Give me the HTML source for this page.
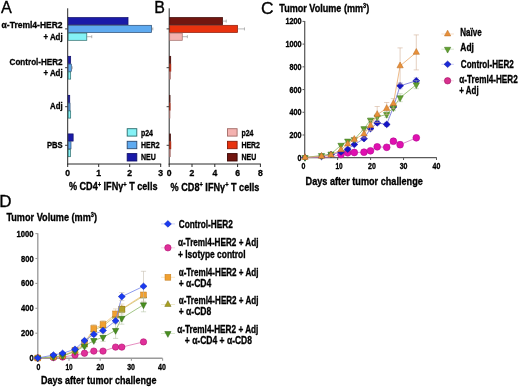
<!DOCTYPE html>
<html><head><meta charset="utf-8"><style>
html,body{margin:0;padding:0;background:#fff;}
svg{display:block;filter:blur(0.3px);}
text{font-family:"Liberation Sans",sans-serif;stroke:#000;stroke-width:0.32px;}
</style></head><body>
<svg width="520" height="388" viewBox="0 0 520 388">
<rect width="520" height="388" fill="#fff"/>
<line x1="67.7" y1="8.3" x2="67.7" y2="164.5" stroke="#2a2a2a" stroke-width="1"/>
<line x1="67.2" y1="164" x2="161.2" y2="164" stroke="#2a2a2a" stroke-width="1"/>
<line x1="67.7" y1="164" x2="67.7" y2="167" stroke="#2a2a2a" stroke-width="1"/>
<text x="67.7" y="175.6" font-size="8.6" font-weight="bold" text-anchor="middle" fill="#000">0</text>
<line x1="98.7" y1="164" x2="98.7" y2="167" stroke="#2a2a2a" stroke-width="1"/>
<text x="98.7" y="175.6" font-size="8.6" font-weight="bold" text-anchor="middle" fill="#000">1</text>
<line x1="129.7" y1="164" x2="129.7" y2="167" stroke="#2a2a2a" stroke-width="1"/>
<text x="129.7" y="175.6" font-size="8.6" font-weight="bold" text-anchor="middle" fill="#000">2</text>
<line x1="160.7" y1="164" x2="160.7" y2="167" stroke="#2a2a2a" stroke-width="1"/>
<text x="160.7" y="175.6" font-size="8.6" font-weight="bold" text-anchor="middle" fill="#000">3</text>
<line x1="65.10000000000001" y1="28.9" x2="67.7" y2="28.9" stroke="#2a2a2a" stroke-width="0.9"/>
<rect x="68.2" y="17.5" width="59.83" height="7.2" fill="#1a1aa8" stroke="#10106a" stroke-width="0.7"/>
<rect x="68.2" y="25.3" width="83.39" height="7.2" fill="#5eaaf0" stroke="#2c4a70" stroke-width="0.7"/>
<line x1="151.59" y1="28.9" x2="152.83" y2="28.9" stroke="#888" stroke-width="0.6"/>
<line x1="152.83" y1="27.4" x2="152.83" y2="30.4" stroke="#888" stroke-width="0.6"/>
<rect x="68.2" y="33.099999999999994" width="18.599999999999998" height="7.2" fill="#84f2f6" stroke="#2a6a6a" stroke-width="0.7"/>
<line x1="86.8" y1="36.699999999999996" x2="91.75999999999999" y2="36.699999999999996" stroke="#888" stroke-width="0.6"/>
<line x1="91.75999999999999" y1="35.199999999999996" x2="91.75999999999999" y2="38.199999999999996" stroke="#888" stroke-width="0.6"/>
<line x1="65.10000000000001" y1="67.7" x2="67.7" y2="67.7" stroke="#2a2a2a" stroke-width="0.9"/>
<rect x="68.2" y="56.3" width="2.48" height="7.2" fill="#1a1aa8" stroke="#10106a" stroke-width="0.7"/>
<rect x="68.2" y="64.1" width="3.1" height="7.2" fill="#5eaaf0" stroke="#2c4a70" stroke-width="0.7"/>
<line x1="71.3" y1="67.7" x2="72.23" y2="67.7" stroke="#888" stroke-width="0.6"/>
<line x1="72.23" y1="66.2" x2="72.23" y2="69.2" stroke="#888" stroke-width="0.6"/>
<rect x="68.2" y="71.89999999999999" width="2.48" height="7.2" fill="#84f2f6" stroke="#2a6a6a" stroke-width="0.7"/>
<line x1="65.10000000000001" y1="106.7" x2="67.7" y2="106.7" stroke="#2a2a2a" stroke-width="0.9"/>
<rect x="68.2" y="95.3" width="1.55" height="7.2" fill="#1a1aa8" stroke="#10106a" stroke-width="0.7"/>
<rect x="68.2" y="103.1" width="1.8599999999999999" height="7.2" fill="#5eaaf0" stroke="#2c4a70" stroke-width="0.7"/>
<rect x="68.2" y="110.89999999999999" width="2.48" height="7.2" fill="#84f2f6" stroke="#2a6a6a" stroke-width="0.7"/>
<line x1="65.10000000000001" y1="145.3" x2="67.7" y2="145.3" stroke="#2a2a2a" stroke-width="0.9"/>
<rect x="68.2" y="133.90000000000003" width="4.96" height="7.2" fill="#1a1aa8" stroke="#10106a" stroke-width="0.7"/>
<rect x="68.2" y="141.70000000000005" width="2.79" height="7.2" fill="#5eaaf0" stroke="#2c4a70" stroke-width="0.7"/>
<rect x="68.2" y="149.50000000000003" width="2.1700000000000004" height="7.2" fill="#84f2f6" stroke="#2a6a6a" stroke-width="0.7"/>
<rect x="127.2" y="128.70000000000002" width="9.6" height="7.4" fill="#84f2f6" stroke="#2a6a6a" stroke-width="0.9"/>
<text x="141.0" y="135.5" font-size="8.7" font-weight="bold" text-anchor="start" fill="#000" textLength="12.0" lengthAdjust="spacingAndGlyphs">p24</text>
<rect x="127.2" y="141.3" width="9.6" height="7.4" fill="#5eaaf0" stroke="#2c4a70" stroke-width="0.9"/>
<text x="141.0" y="148.1" font-size="8.7" font-weight="bold" text-anchor="start" fill="#000" textLength="18.6" lengthAdjust="spacingAndGlyphs">HER2</text>
<rect x="127.2" y="153.60000000000002" width="9.6" height="7.4" fill="#1a1aa8" stroke="#10106a" stroke-width="0.9"/>
<text x="141.0" y="160.4" font-size="8.7" font-weight="bold" text-anchor="start" fill="#000" textLength="14.8" lengthAdjust="spacingAndGlyphs">NEU</text>
<line x1="169.2" y1="8.3" x2="169.2" y2="164.5" stroke="#2a2a2a" stroke-width="1"/>
<line x1="168.7" y1="164" x2="260.9" y2="164" stroke="#2a2a2a" stroke-width="1"/>
<line x1="169.2" y1="164" x2="169.2" y2="167" stroke="#2a2a2a" stroke-width="1"/>
<text x="169.2" y="175.6" font-size="8.6" font-weight="bold" text-anchor="middle" fill="#000">0</text>
<line x1="192.0" y1="164" x2="192.0" y2="167" stroke="#2a2a2a" stroke-width="1"/>
<text x="192.0" y="175.6" font-size="8.6" font-weight="bold" text-anchor="middle" fill="#000">2</text>
<line x1="214.79999999999998" y1="164" x2="214.79999999999998" y2="167" stroke="#2a2a2a" stroke-width="1"/>
<text x="214.79999999999998" y="175.6" font-size="8.6" font-weight="bold" text-anchor="middle" fill="#000">4</text>
<line x1="237.6" y1="164" x2="237.6" y2="167" stroke="#2a2a2a" stroke-width="1"/>
<text x="237.6" y="175.6" font-size="8.6" font-weight="bold" text-anchor="middle" fill="#000">6</text>
<line x1="260.4" y1="164" x2="260.4" y2="167" stroke="#2a2a2a" stroke-width="1"/>
<text x="260.4" y="175.6" font-size="8.6" font-weight="bold" text-anchor="middle" fill="#000">8</text>
<line x1="166.6" y1="28.9" x2="169.2" y2="28.9" stroke="#2a2a2a" stroke-width="0.9"/>
<rect x="169.7" y="17.5" width="52.896" height="7.2" fill="#721610" stroke="#3a0604" stroke-width="0.7"/>
<line x1="222.596" y1="21.099999999999998" x2="226.244" y2="21.099999999999998" stroke="#888" stroke-width="0.6"/>
<line x1="226.244" y1="19.599999999999998" x2="226.244" y2="22.6" stroke="#888" stroke-width="0.6"/>
<rect x="169.7" y="25.3" width="67.944" height="7.2" fill="#e8320e" stroke="#8a1a08" stroke-width="0.7"/>
<line x1="237.644" y1="28.9" x2="244.484" y2="28.9" stroke="#888" stroke-width="0.6"/>
<line x1="244.484" y1="27.4" x2="244.484" y2="30.4" stroke="#888" stroke-width="0.6"/>
<rect x="169.7" y="33.099999999999994" width="12.540000000000001" height="7.2" fill="#f4b2b0" stroke="#a06a66" stroke-width="0.7"/>
<line x1="182.23999999999998" y1="36.699999999999996" x2="187.36999999999998" y2="36.699999999999996" stroke="#888" stroke-width="0.6"/>
<line x1="187.36999999999998" y1="35.199999999999996" x2="187.36999999999998" y2="38.199999999999996" stroke="#888" stroke-width="0.6"/>
<line x1="166.6" y1="67.7" x2="169.2" y2="67.7" stroke="#2a2a2a" stroke-width="0.9"/>
<rect x="169.7" y="56.3" width="1.026" height="7.2" fill="#721610" stroke="#3a0604" stroke-width="0.7"/>
<rect x="169.7" y="64.1" width="1.1400000000000001" height="7.2" fill="#e8320e" stroke="#8a1a08" stroke-width="0.7"/>
<rect x="169.7" y="71.89999999999999" width="0.6839999999999999" height="7.2" fill="#f4b2b0" stroke="#a06a66" stroke-width="0.7"/>
<line x1="166.6" y1="106.7" x2="169.2" y2="106.7" stroke="#2a2a2a" stroke-width="0.9"/>
<rect x="169.7" y="95.3" width="0.34199999999999997" height="7.2" fill="#721610" stroke="#3a0604" stroke-width="0.7"/>
<rect x="169.7" y="103.1" width="0.456" height="7.2" fill="#e8320e" stroke="#8a1a08" stroke-width="0.7"/>
<rect x="169.7" y="110.89999999999999" width="0.228" height="7.2" fill="#f4b2b0" stroke="#a06a66" stroke-width="0.7"/>
<line x1="166.6" y1="145.3" x2="169.2" y2="145.3" stroke="#2a2a2a" stroke-width="0.9"/>
<rect x="169.7" y="133.90000000000003" width="0.7980000000000002" height="7.2" fill="#721610" stroke="#3a0604" stroke-width="0.7"/>
<rect x="169.7" y="141.70000000000005" width="1.1400000000000001" height="7.2" fill="#e8320e" stroke="#8a1a08" stroke-width="0.7"/>
<rect x="169.7" y="149.50000000000003" width="0.5700000000000001" height="7.2" fill="#f4b2b0" stroke="#a06a66" stroke-width="0.7"/>
<rect x="227.5" y="128.70000000000002" width="9.6" height="7.4" fill="#f4b2b0" stroke="#a06a66" stroke-width="0.9"/>
<text x="241.4" y="135.5" font-size="8.7" font-weight="bold" text-anchor="start" fill="#000" textLength="12.0" lengthAdjust="spacingAndGlyphs">p24</text>
<rect x="227.5" y="141.3" width="9.6" height="7.4" fill="#e8320e" stroke="#8a1a08" stroke-width="0.9"/>
<text x="241.4" y="148.1" font-size="8.7" font-weight="bold" text-anchor="start" fill="#000" textLength="18.6" lengthAdjust="spacingAndGlyphs">HER2</text>
<rect x="227.5" y="153.60000000000002" width="9.6" height="7.4" fill="#721610" stroke="#3a0604" stroke-width="0.9"/>
<text x="241.4" y="160.4" font-size="8.7" font-weight="bold" text-anchor="start" fill="#000" textLength="14.8" lengthAdjust="spacingAndGlyphs">NEU</text>
<text x="68.9" y="190.4" font-size="10.2" font-weight="bold" fill="#000" textLength="88.6" lengthAdjust="spacingAndGlyphs">% CD4<tspan font-size="6.4" dy="-3.8">+</tspan><tspan dy="3.8"> IFNγ</tspan><tspan font-size="6.4" dy="-3.8">+</tspan><tspan dy="3.8"> T cells</tspan></text>
<text x="170.6" y="190.8" font-size="10.2" font-weight="bold" fill="#000" textLength="88.8" lengthAdjust="spacingAndGlyphs">% CD8<tspan font-size="6.4" dy="-3.8">+</tspan><tspan dy="3.8"> IFNγ</tspan><tspan font-size="6.4" dy="-3.8">+</tspan><tspan dy="3.8"> T cells</tspan></text>
<text x="1.0" y="13.3" font-size="16.2" font-weight="normal" text-anchor="start" fill="#000">A</text>
<text x="154.3" y="13.3" font-size="16.0" font-weight="normal" text-anchor="start" fill="#000">B</text>
<text x="62.6" y="28.3" font-size="9.5" font-weight="bold" text-anchor="end" fill="#000" textLength="61.0" lengthAdjust="spacingAndGlyphs">α-Treml4-HER2</text>
<text x="62.6" y="40.1" font-size="9.5" font-weight="bold" text-anchor="end" fill="#000" textLength="19.2" lengthAdjust="spacingAndGlyphs">+ Adj</text>
<text x="62.6" y="64.8" font-size="9.5" font-weight="bold" text-anchor="end" fill="#000" textLength="53.0" lengthAdjust="spacingAndGlyphs">Control-HER2</text>
<text x="62.6" y="76.4" font-size="9.5" font-weight="bold" text-anchor="end" fill="#000" textLength="19.2" lengthAdjust="spacingAndGlyphs">+ Adj</text>
<text x="62.6" y="108.8" font-size="9.5" font-weight="bold" text-anchor="end" fill="#000" textLength="12.6" lengthAdjust="spacingAndGlyphs">Adj</text>
<text x="62.6" y="147.8" font-size="9.5" font-weight="bold" text-anchor="end" fill="#000" textLength="15.7" lengthAdjust="spacingAndGlyphs">PBS</text>
<line x1="304.7" y1="20.9" x2="304.7" y2="158.3" stroke="#5a5a5a" stroke-width="1.25"/>
<line x1="304.09999999999997" y1="157.7" x2="436.8" y2="157.7" stroke="#5a5a5a" stroke-width="1.25"/>
<line x1="302.5" y1="21.4" x2="304.7" y2="21.4" stroke="#5a5a5a" stroke-width="1.0"/>
<text x="301.6" y="24.4" font-size="8.2" font-weight="bold" text-anchor="end" fill="#000" textLength="16.2" lengthAdjust="spacingAndGlyphs">1200</text>
<line x1="302.5" y1="44.12" x2="304.7" y2="44.12" stroke="#5a5a5a" stroke-width="1.0"/>
<text x="301.6" y="47.12" font-size="8.2" font-weight="bold" text-anchor="end" fill="#000" textLength="16.2" lengthAdjust="spacingAndGlyphs">1000</text>
<line x1="302.5" y1="66.84" x2="304.7" y2="66.84" stroke="#5a5a5a" stroke-width="1.0"/>
<text x="301.6" y="69.84" font-size="8.2" font-weight="bold" text-anchor="end" fill="#000" textLength="12.0" lengthAdjust="spacingAndGlyphs">800</text>
<line x1="302.5" y1="89.56" x2="304.7" y2="89.56" stroke="#5a5a5a" stroke-width="1.0"/>
<text x="301.6" y="92.56" font-size="8.2" font-weight="bold" text-anchor="end" fill="#000" textLength="12.0" lengthAdjust="spacingAndGlyphs">600</text>
<line x1="302.5" y1="112.28" x2="304.7" y2="112.28" stroke="#5a5a5a" stroke-width="1.0"/>
<text x="301.6" y="115.28" font-size="8.2" font-weight="bold" text-anchor="end" fill="#000" textLength="12.0" lengthAdjust="spacingAndGlyphs">400</text>
<line x1="302.5" y1="135.0" x2="304.7" y2="135.0" stroke="#5a5a5a" stroke-width="1.0"/>
<text x="301.6" y="138.0" font-size="8.2" font-weight="bold" text-anchor="end" fill="#000" textLength="12.0" lengthAdjust="spacingAndGlyphs">200</text>
<line x1="302.5" y1="157.72" x2="304.7" y2="157.72" stroke="#5a5a5a" stroke-width="1.0"/>
<text x="301.6" y="160.72" font-size="8.2" font-weight="bold" text-anchor="end" fill="#000" textLength="4.0" lengthAdjust="spacingAndGlyphs">0</text>
<line x1="304.7" y1="157.7" x2="304.7" y2="160" stroke="#5a5a5a" stroke-width="1.0"/>
<text x="303.5" y="169.2" font-size="8.4" font-weight="bold" text-anchor="middle" fill="#000" textLength="3.9" lengthAdjust="spacingAndGlyphs">0</text>
<line x1="337.65" y1="157.7" x2="337.65" y2="160" stroke="#5a5a5a" stroke-width="1.0"/>
<text x="339.1" y="169.2" font-size="8.4" font-weight="bold" text-anchor="middle" fill="#000" textLength="7.2" lengthAdjust="spacingAndGlyphs">10</text>
<line x1="370.6" y1="157.7" x2="370.6" y2="160" stroke="#5a5a5a" stroke-width="1.0"/>
<text x="371.9" y="169.2" font-size="8.4" font-weight="bold" text-anchor="middle" fill="#000" textLength="7.8" lengthAdjust="spacingAndGlyphs">20</text>
<line x1="403.55" y1="157.7" x2="403.55" y2="160" stroke="#5a5a5a" stroke-width="1.0"/>
<text x="403.6" y="169.2" font-size="8.4" font-weight="bold" text-anchor="middle" fill="#000" textLength="7.8" lengthAdjust="spacingAndGlyphs">30</text>
<line x1="436.5" y1="157.7" x2="436.5" y2="160" stroke="#5a5a5a" stroke-width="1.0"/>
<text x="436.4" y="169.2" font-size="8.4" font-weight="bold" text-anchor="middle" fill="#000" textLength="7.8" lengthAdjust="spacingAndGlyphs">40</text>
<text x="260.9" y="13.8" font-size="17.4" font-weight="normal" text-anchor="start" fill="#000">C</text>
<text x="279.3" y="11.9" font-size="10.4" font-weight="bold" fill="#000" textLength="89.9" lengthAdjust="spacingAndGlyphs">Tumor Volume (mm<tspan font-size="6.4" dy="-3.8">3</tspan><tspan dy="3.8">)</tspan></text>
<text x="305.6" y="184.8" font-size="10.0" font-weight="bold" text-anchor="start" fill="#000" textLength="117.2" lengthAdjust="spacingAndGlyphs">Days after tumor challenge</text>
<polyline points="305.00,157.50 321.50,157.30 331.00,157.00 341.00,154.60 347.70,152.80 354.30,152.50 364.00,152.20 370.50,150.80 377.20,146.80 386.70,147.30 393.40,141.20 400.10,144.70 416.30,137.80" fill="none" stroke="#d070c0" stroke-width="0.8"/>
<line x1="377.2" y1="144.8" x2="377.2" y2="148.8" stroke="#d8a0c8" stroke-width="0.55"/>
<line x1="374.59999999999997" y1="144.8" x2="379.8" y2="144.8" stroke="#d8a0c8" stroke-width="0.55"/>
<line x1="374.59999999999997" y1="148.8" x2="379.8" y2="148.8" stroke="#d8a0c8" stroke-width="0.55"/>
<line x1="386.7" y1="145.3" x2="386.7" y2="149.3" stroke="#d8a0c8" stroke-width="0.55"/>
<line x1="384.09999999999997" y1="145.3" x2="389.3" y2="145.3" stroke="#d8a0c8" stroke-width="0.55"/>
<line x1="384.09999999999997" y1="149.3" x2="389.3" y2="149.3" stroke="#d8a0c8" stroke-width="0.55"/>
<line x1="393.4" y1="139.2" x2="393.4" y2="143.2" stroke="#d8a0c8" stroke-width="0.55"/>
<line x1="390.79999999999995" y1="139.2" x2="396.0" y2="139.2" stroke="#d8a0c8" stroke-width="0.55"/>
<line x1="390.79999999999995" y1="143.2" x2="396.0" y2="143.2" stroke="#d8a0c8" stroke-width="0.55"/>
<line x1="400.1" y1="141.7" x2="400.1" y2="147.7" stroke="#d8a0c8" stroke-width="0.55"/>
<line x1="397.5" y1="141.7" x2="402.70000000000005" y2="141.7" stroke="#d8a0c8" stroke-width="0.55"/>
<line x1="397.5" y1="147.7" x2="402.70000000000005" y2="147.7" stroke="#d8a0c8" stroke-width="0.55"/>
<circle cx="341.00" cy="154.60" r="3.39" fill="#e010b0" stroke="#b00890" stroke-width="0.6"/>
<circle cx="347.70" cy="152.80" r="3.39" fill="#e010b0" stroke="#b00890" stroke-width="0.6"/>
<circle cx="354.30" cy="152.50" r="3.39" fill="#e010b0" stroke="#b00890" stroke-width="0.6"/>
<circle cx="364.00" cy="152.20" r="3.39" fill="#e010b0" stroke="#b00890" stroke-width="0.6"/>
<circle cx="370.50" cy="150.80" r="3.39" fill="#e010b0" stroke="#b00890" stroke-width="0.6"/>
<circle cx="377.20" cy="146.80" r="3.39" fill="#e010b0" stroke="#b00890" stroke-width="0.6"/>
<circle cx="386.70" cy="147.30" r="3.39" fill="#e010b0" stroke="#b00890" stroke-width="0.6"/>
<circle cx="393.40" cy="141.20" r="3.39" fill="#e010b0" stroke="#b00890" stroke-width="0.6"/>
<circle cx="400.10" cy="144.70" r="3.39" fill="#e010b0" stroke="#b00890" stroke-width="0.6"/>
<circle cx="416.30" cy="137.80" r="3.39" fill="#e010b0" stroke="#b00890" stroke-width="0.6"/>
<polyline points="305.00,157.50 321.50,156.50 331.00,154.50 341.00,152.00 347.70,149.20 354.30,144.50 364.00,138.70 370.50,128.60 377.20,122.90 386.70,124.40 393.40,107.00 400.10,85.80 416.30,80.80" fill="none" stroke="#6a6ad8" stroke-width="0.8"/>
<line x1="370.5" y1="126.6" x2="370.5" y2="130.6" stroke="#a0a0d8" stroke-width="0.55"/>
<line x1="367.9" y1="126.6" x2="373.1" y2="126.6" stroke="#a0a0d8" stroke-width="0.55"/>
<line x1="367.9" y1="130.6" x2="373.1" y2="130.6" stroke="#a0a0d8" stroke-width="0.55"/>
<line x1="377.2" y1="120.9" x2="377.2" y2="124.9" stroke="#a0a0d8" stroke-width="0.55"/>
<line x1="374.59999999999997" y1="120.9" x2="379.8" y2="120.9" stroke="#a0a0d8" stroke-width="0.55"/>
<line x1="374.59999999999997" y1="124.9" x2="379.8" y2="124.9" stroke="#a0a0d8" stroke-width="0.55"/>
<line x1="386.7" y1="122.4" x2="386.7" y2="126.4" stroke="#a0a0d8" stroke-width="0.55"/>
<line x1="384.09999999999997" y1="122.4" x2="389.3" y2="122.4" stroke="#a0a0d8" stroke-width="0.55"/>
<line x1="384.09999999999997" y1="126.4" x2="389.3" y2="126.4" stroke="#a0a0d8" stroke-width="0.55"/>
<line x1="393.4" y1="105" x2="393.4" y2="109" stroke="#a0a0d8" stroke-width="0.55"/>
<line x1="390.79999999999995" y1="105" x2="396.0" y2="105" stroke="#a0a0d8" stroke-width="0.55"/>
<line x1="390.79999999999995" y1="109" x2="396.0" y2="109" stroke="#a0a0d8" stroke-width="0.55"/>
<line x1="400.1" y1="82.8" x2="400.1" y2="88.8" stroke="#a0a0d8" stroke-width="0.55"/>
<line x1="397.5" y1="82.8" x2="402.70000000000005" y2="82.8" stroke="#a0a0d8" stroke-width="0.55"/>
<line x1="397.5" y1="88.8" x2="402.70000000000005" y2="88.8" stroke="#a0a0d8" stroke-width="0.55"/>
<line x1="416.3" y1="77.8" x2="416.3" y2="83.8" stroke="#a0a0d8" stroke-width="0.55"/>
<line x1="413.7" y1="77.8" x2="418.90000000000003" y2="77.8" stroke="#a0a0d8" stroke-width="0.55"/>
<line x1="413.7" y1="83.8" x2="418.90000000000003" y2="83.8" stroke="#a0a0d8" stroke-width="0.55"/>
<polygon points="305.00,154.20 308.50,157.50 305.00,160.80 301.50,157.50" fill="#1414c8" stroke="#0a0a90" stroke-width="0.5"/>
<polygon points="321.50,153.20 325.00,156.50 321.50,159.80 318.00,156.50" fill="#1414c8" stroke="#0a0a90" stroke-width="0.5"/>
<polygon points="331.00,151.20 334.50,154.50 331.00,157.80 327.50,154.50" fill="#1414c8" stroke="#0a0a90" stroke-width="0.5"/>
<polygon points="341.00,148.70 344.50,152.00 341.00,155.30 337.50,152.00" fill="#1414c8" stroke="#0a0a90" stroke-width="0.5"/>
<polygon points="347.70,145.90 351.20,149.20 347.70,152.50 344.20,149.20" fill="#1414c8" stroke="#0a0a90" stroke-width="0.5"/>
<polygon points="354.30,141.20 357.80,144.50 354.30,147.80 350.80,144.50" fill="#1414c8" stroke="#0a0a90" stroke-width="0.5"/>
<polygon points="364.00,135.40 367.50,138.70 364.00,142.00 360.50,138.70" fill="#1414c8" stroke="#0a0a90" stroke-width="0.5"/>
<polygon points="370.50,125.30 374.00,128.60 370.50,131.90 367.00,128.60" fill="#1414c8" stroke="#0a0a90" stroke-width="0.5"/>
<polygon points="377.20,119.60 380.70,122.90 377.20,126.20 373.70,122.90" fill="#1414c8" stroke="#0a0a90" stroke-width="0.5"/>
<polygon points="386.70,121.10 390.20,124.40 386.70,127.70 383.20,124.40" fill="#1414c8" stroke="#0a0a90" stroke-width="0.5"/>
<polygon points="393.40,103.70 396.90,107.00 393.40,110.30 389.90,107.00" fill="#1414c8" stroke="#0a0a90" stroke-width="0.5"/>
<polygon points="400.10,82.50 403.60,85.80 400.10,89.10 396.60,85.80" fill="#1414c8" stroke="#0a0a90" stroke-width="0.5"/>
<polygon points="416.30,77.50 419.80,80.80 416.30,84.10 412.80,80.80" fill="#1414c8" stroke="#0a0a90" stroke-width="0.5"/>
<polyline points="305.00,157.50 321.50,155.50 331.00,154.00 341.00,145.20 347.70,141.00 354.30,139.50 364.00,128.60 370.50,120.10 377.20,117.00 386.70,114.40 393.40,107.60 400.10,97.70 416.30,84.70" fill="none" stroke="#88b860" stroke-width="0.8"/>
<line x1="364" y1="126.6" x2="364" y2="130.6" stroke="#b0c8a0" stroke-width="0.55"/>
<line x1="361.4" y1="126.6" x2="366.6" y2="126.6" stroke="#b0c8a0" stroke-width="0.55"/>
<line x1="361.4" y1="130.6" x2="366.6" y2="130.6" stroke="#b0c8a0" stroke-width="0.55"/>
<line x1="370.5" y1="118.1" x2="370.5" y2="122.1" stroke="#b0c8a0" stroke-width="0.55"/>
<line x1="367.9" y1="118.1" x2="373.1" y2="118.1" stroke="#b0c8a0" stroke-width="0.55"/>
<line x1="367.9" y1="122.1" x2="373.1" y2="122.1" stroke="#b0c8a0" stroke-width="0.55"/>
<line x1="377.2" y1="114" x2="377.2" y2="120" stroke="#b0c8a0" stroke-width="0.55"/>
<line x1="374.59999999999997" y1="114" x2="379.8" y2="114" stroke="#b0c8a0" stroke-width="0.55"/>
<line x1="374.59999999999997" y1="120" x2="379.8" y2="120" stroke="#b0c8a0" stroke-width="0.55"/>
<line x1="386.7" y1="111.4" x2="386.7" y2="117.4" stroke="#b0c8a0" stroke-width="0.55"/>
<line x1="384.09999999999997" y1="111.4" x2="389.3" y2="111.4" stroke="#b0c8a0" stroke-width="0.55"/>
<line x1="384.09999999999997" y1="117.4" x2="389.3" y2="117.4" stroke="#b0c8a0" stroke-width="0.55"/>
<line x1="393.4" y1="104.6" x2="393.4" y2="110.6" stroke="#b0c8a0" stroke-width="0.55"/>
<line x1="390.79999999999995" y1="104.6" x2="396.0" y2="104.6" stroke="#b0c8a0" stroke-width="0.55"/>
<line x1="390.79999999999995" y1="110.6" x2="396.0" y2="110.6" stroke="#b0c8a0" stroke-width="0.55"/>
<line x1="400.1" y1="93.7" x2="400.1" y2="101.7" stroke="#b0c8a0" stroke-width="0.55"/>
<line x1="397.5" y1="93.7" x2="402.70000000000005" y2="93.7" stroke="#b0c8a0" stroke-width="0.55"/>
<line x1="397.5" y1="101.7" x2="402.70000000000005" y2="101.7" stroke="#b0c8a0" stroke-width="0.55"/>
<line x1="416.3" y1="80.7" x2="416.3" y2="88.7" stroke="#b0c8a0" stroke-width="0.55"/>
<line x1="413.7" y1="80.7" x2="418.90000000000003" y2="80.7" stroke="#b0c8a0" stroke-width="0.55"/>
<line x1="413.7" y1="88.7" x2="418.90000000000003" y2="88.7" stroke="#b0c8a0" stroke-width="0.55"/>
<polygon points="301.85,155.57 308.15,155.57 305.00,161.37" fill="#62a030" stroke="#3a7018" stroke-width="0.5"/>
<polygon points="318.35,153.57 324.65,153.57 321.50,159.37" fill="#62a030" stroke="#3a7018" stroke-width="0.5"/>
<polygon points="327.85,152.07 334.15,152.07 331.00,157.87" fill="#62a030" stroke="#3a7018" stroke-width="0.5"/>
<polygon points="337.85,143.27 344.15,143.27 341.00,149.07" fill="#62a030" stroke="#3a7018" stroke-width="0.5"/>
<polygon points="344.55,139.07 350.85,139.07 347.70,144.87" fill="#62a030" stroke="#3a7018" stroke-width="0.5"/>
<polygon points="351.15,137.57 357.45,137.57 354.30,143.37" fill="#62a030" stroke="#3a7018" stroke-width="0.5"/>
<polygon points="360.85,126.67 367.15,126.67 364.00,132.47" fill="#62a030" stroke="#3a7018" stroke-width="0.5"/>
<polygon points="367.35,118.17 373.65,118.17 370.50,123.97" fill="#62a030" stroke="#3a7018" stroke-width="0.5"/>
<polygon points="374.05,115.07 380.35,115.07 377.20,120.87" fill="#62a030" stroke="#3a7018" stroke-width="0.5"/>
<polygon points="383.55,112.47 389.85,112.47 386.70,118.27" fill="#62a030" stroke="#3a7018" stroke-width="0.5"/>
<polygon points="390.25,105.67 396.55,105.67 393.40,111.47" fill="#62a030" stroke="#3a7018" stroke-width="0.5"/>
<polygon points="396.95,95.77 403.25,95.77 400.10,101.57" fill="#62a030" stroke="#3a7018" stroke-width="0.5"/>
<polygon points="413.15,82.77 419.45,82.77 416.30,88.57" fill="#62a030" stroke="#3a7018" stroke-width="0.5"/>
<polyline points="305.00,157.50 321.50,156.40 331.00,155.00 341.00,149.80 347.70,144.00 354.30,139.40 364.00,134.00 370.50,125.50 377.20,114.50 386.70,108.50 393.40,103.60 400.10,65.90 416.30,52.40" fill="none" stroke="#eaa868" stroke-width="0.8"/>
<line x1="354.3" y1="137.4" x2="354.3" y2="141.4" stroke="#d0aa90" stroke-width="0.55"/>
<line x1="351.7" y1="137.4" x2="356.90000000000003" y2="137.4" stroke="#d0aa90" stroke-width="0.55"/>
<line x1="351.7" y1="141.4" x2="356.90000000000003" y2="141.4" stroke="#d0aa90" stroke-width="0.55"/>
<line x1="364" y1="130" x2="364" y2="138" stroke="#d0aa90" stroke-width="0.55"/>
<line x1="361.4" y1="130" x2="366.6" y2="130" stroke="#d0aa90" stroke-width="0.55"/>
<line x1="361.4" y1="138" x2="366.6" y2="138" stroke="#d0aa90" stroke-width="0.55"/>
<line x1="370.5" y1="120.5" x2="370.5" y2="130.5" stroke="#d0aa90" stroke-width="0.55"/>
<line x1="367.9" y1="120.5" x2="373.1" y2="120.5" stroke="#d0aa90" stroke-width="0.55"/>
<line x1="367.9" y1="130.5" x2="373.1" y2="130.5" stroke="#d0aa90" stroke-width="0.55"/>
<line x1="377.2" y1="106.5" x2="377.2" y2="122.5" stroke="#d0aa90" stroke-width="0.55"/>
<line x1="374.59999999999997" y1="106.5" x2="379.8" y2="106.5" stroke="#d0aa90" stroke-width="0.55"/>
<line x1="374.59999999999997" y1="122.5" x2="379.8" y2="122.5" stroke="#d0aa90" stroke-width="0.55"/>
<line x1="386.7" y1="102.5" x2="386.7" y2="114.5" stroke="#d0aa90" stroke-width="0.55"/>
<line x1="384.09999999999997" y1="102.5" x2="389.3" y2="102.5" stroke="#d0aa90" stroke-width="0.55"/>
<line x1="384.09999999999997" y1="114.5" x2="389.3" y2="114.5" stroke="#d0aa90" stroke-width="0.55"/>
<line x1="393.4" y1="98.6" x2="393.4" y2="108.6" stroke="#d0aa90" stroke-width="0.55"/>
<line x1="390.79999999999995" y1="98.6" x2="396.0" y2="98.6" stroke="#d0aa90" stroke-width="0.55"/>
<line x1="390.79999999999995" y1="108.6" x2="396.0" y2="108.6" stroke="#d0aa90" stroke-width="0.55"/>
<line x1="400.1" y1="47.900000000000006" x2="400.1" y2="83.9" stroke="#d0aa90" stroke-width="0.55"/>
<line x1="397.5" y1="47.900000000000006" x2="402.70000000000005" y2="47.900000000000006" stroke="#d0aa90" stroke-width="0.55"/>
<line x1="397.5" y1="83.9" x2="402.70000000000005" y2="83.9" stroke="#d0aa90" stroke-width="0.55"/>
<line x1="416.3" y1="34.9" x2="416.3" y2="69.9" stroke="#d0aa90" stroke-width="0.55"/>
<line x1="413.7" y1="34.9" x2="418.90000000000003" y2="34.9" stroke="#d0aa90" stroke-width="0.55"/>
<line x1="413.7" y1="69.9" x2="418.90000000000003" y2="69.9" stroke="#d0aa90" stroke-width="0.55"/>
<polygon points="301.85,159.43 308.15,159.43 305.00,153.63" fill="#e8903a" stroke="#b86a20" stroke-width="0.5"/>
<polygon points="318.35,158.33 324.65,158.33 321.50,152.53" fill="#e8903a" stroke="#b86a20" stroke-width="0.5"/>
<polygon points="327.85,156.93 334.15,156.93 331.00,151.13" fill="#e8903a" stroke="#b86a20" stroke-width="0.5"/>
<polygon points="337.85,151.73 344.15,151.73 341.00,145.93" fill="#e8903a" stroke="#b86a20" stroke-width="0.5"/>
<polygon points="344.55,145.93 350.85,145.93 347.70,140.13" fill="#e8903a" stroke="#b86a20" stroke-width="0.5"/>
<polygon points="351.15,141.33 357.45,141.33 354.30,135.53" fill="#e8903a" stroke="#b86a20" stroke-width="0.5"/>
<polygon points="360.85,135.93 367.15,135.93 364.00,130.13" fill="#e8903a" stroke="#b86a20" stroke-width="0.5"/>
<polygon points="367.35,127.43 373.65,127.43 370.50,121.63" fill="#e8903a" stroke="#b86a20" stroke-width="0.5"/>
<polygon points="374.05,116.43 380.35,116.43 377.20,110.63" fill="#e8903a" stroke="#b86a20" stroke-width="0.5"/>
<polygon points="383.55,110.43 389.85,110.43 386.70,104.63" fill="#e8903a" stroke="#b86a20" stroke-width="0.5"/>
<polygon points="390.25,105.53 396.55,105.53 393.40,99.73" fill="#e8903a" stroke="#b86a20" stroke-width="0.5"/>
<polygon points="396.95,67.83 403.25,67.83 400.10,62.03" fill="#e8903a" stroke="#b86a20" stroke-width="0.5"/>
<polygon points="413.15,54.33 419.45,54.33 416.30,48.53" fill="#e8903a" stroke="#b86a20" stroke-width="0.5"/>
<line x1="441.4" y1="34.0" x2="453.9" y2="34.0" stroke="#f4d0b0" stroke-width="0.7"/>
<polygon points="444.45,35.93 450.75,35.93 447.60,30.13" fill="#e8903a" stroke="#b86a20" stroke-width="0.5"/>
<line x1="441.4" y1="49.2" x2="453.9" y2="49.2" stroke="#c4dcb4" stroke-width="0.7"/>
<polygon points="444.45,47.27 450.75,47.27 447.60,53.07" fill="#62a030" stroke="#3a7018" stroke-width="0.5"/>
<line x1="441.4" y1="64.3" x2="453.9" y2="64.3" stroke="#b4b8f0" stroke-width="0.7"/>
<polygon points="447.60,61.00 451.10,64.30 447.60,67.60 444.10,64.30" fill="#1a2ad8" stroke="#0a0a90" stroke-width="0.5"/>
<line x1="441.4" y1="80.8" x2="453.9" y2="80.8" stroke="#f4c4dc" stroke-width="0.7"/>
<circle cx="447.60" cy="80.80" r="3.20" fill="#d8308e" stroke="#a01060" stroke-width="0.6"/>
<text x="460.3" y="35.6" font-size="10.0" font-weight="bold" text-anchor="start" fill="#000" textLength="21.4" lengthAdjust="spacingAndGlyphs">Naïve</text>
<text x="460.3" y="51.2" font-size="10.0" font-weight="bold" text-anchor="start" fill="#000" textLength="13.6" lengthAdjust="spacingAndGlyphs">Adj</text>
<text x="460.8" y="67.5" font-size="10.0" font-weight="bold" text-anchor="start" fill="#000" textLength="53.0" lengthAdjust="spacingAndGlyphs">Control-HER2</text>
<text x="459.3" y="83.3" font-size="10.0" font-weight="bold" text-anchor="start" fill="#000" textLength="58.4" lengthAdjust="spacingAndGlyphs">α-Treml4-HER2</text>
<text x="459.3" y="93.8" font-size="10.0" font-weight="bold" text-anchor="start" fill="#000" textLength="19.3" lengthAdjust="spacingAndGlyphs">+ Adj</text>
<line x1="37.8" y1="233.3" x2="37.8" y2="358.8" stroke="#9a9a9a" stroke-width="1.35"/>
<line x1="37.199999999999996" y1="358.2" x2="162.5" y2="358.2" stroke="#9a9a9a" stroke-width="1.35"/>
<line x1="35.4" y1="233.6" x2="37.8" y2="233.6" stroke="#9a9a9a" stroke-width="1.1"/>
<text x="33.6" y="236.6" font-size="8.4" font-weight="bold" text-anchor="end" fill="#000" textLength="17.0" lengthAdjust="spacingAndGlyphs">1000</text>
<line x1="35.4" y1="258.5" x2="37.8" y2="258.5" stroke="#9a9a9a" stroke-width="1.1"/>
<text x="33.6" y="261.5" font-size="8.4" font-weight="bold" text-anchor="end" fill="#000" textLength="12.6" lengthAdjust="spacingAndGlyphs">800</text>
<line x1="35.4" y1="283.4" x2="37.8" y2="283.4" stroke="#9a9a9a" stroke-width="1.1"/>
<text x="33.6" y="286.4" font-size="8.4" font-weight="bold" text-anchor="end" fill="#000" textLength="12.6" lengthAdjust="spacingAndGlyphs">600</text>
<line x1="35.4" y1="308.29999999999995" x2="37.8" y2="308.29999999999995" stroke="#9a9a9a" stroke-width="1.1"/>
<text x="33.6" y="311.29999999999995" font-size="8.4" font-weight="bold" text-anchor="end" fill="#000" textLength="12.6" lengthAdjust="spacingAndGlyphs">400</text>
<line x1="35.4" y1="333.2" x2="37.8" y2="333.2" stroke="#9a9a9a" stroke-width="1.1"/>
<text x="33.6" y="336.2" font-size="8.4" font-weight="bold" text-anchor="end" fill="#000" textLength="12.6" lengthAdjust="spacingAndGlyphs">200</text>
<line x1="35.4" y1="358.1" x2="37.8" y2="358.1" stroke="#9a9a9a" stroke-width="1.1"/>
<text x="33.6" y="361.1" font-size="8.4" font-weight="bold" text-anchor="end" fill="#000" textLength="4.2" lengthAdjust="spacingAndGlyphs">0</text>
<line x1="37.8" y1="358.2" x2="37.8" y2="360.7" stroke="#9a9a9a" stroke-width="1.1"/>
<text x="38.4" y="370.2" font-size="8.4" font-weight="bold" text-anchor="middle" fill="#000" textLength="3.9" lengthAdjust="spacingAndGlyphs">0</text>
<line x1="69.0" y1="358.2" x2="69.0" y2="360.7" stroke="#9a9a9a" stroke-width="1.1"/>
<text x="69.0" y="370.2" font-size="8.4" font-weight="bold" text-anchor="middle" fill="#000" textLength="7.2" lengthAdjust="spacingAndGlyphs">10</text>
<line x1="100.19999999999999" y1="358.2" x2="100.19999999999999" y2="360.7" stroke="#9a9a9a" stroke-width="1.1"/>
<text x="100.3" y="370.2" font-size="8.4" font-weight="bold" text-anchor="middle" fill="#000" textLength="7.8" lengthAdjust="spacingAndGlyphs">20</text>
<line x1="131.39999999999998" y1="358.2" x2="131.39999999999998" y2="360.7" stroke="#9a9a9a" stroke-width="1.1"/>
<text x="131.1" y="370.2" font-size="8.4" font-weight="bold" text-anchor="middle" fill="#000" textLength="7.8" lengthAdjust="spacingAndGlyphs">30</text>
<line x1="162.6" y1="358.2" x2="162.6" y2="360.7" stroke="#9a9a9a" stroke-width="1.1"/>
<text x="162.0" y="370.2" font-size="8.4" font-weight="bold" text-anchor="middle" fill="#000" textLength="7.8" lengthAdjust="spacingAndGlyphs">40</text>
<text x="-0.8" y="206.7" font-size="17.0" font-weight="normal" text-anchor="start" fill="#000">D</text>
<text x="6.4" y="220.6" font-size="10.4" font-weight="bold" fill="#000" textLength="90.6" lengthAdjust="spacingAndGlyphs">Tumor Volume (mm<tspan font-size="6.4" dy="-3.8">3</tspan><tspan dy="3.8">)</tspan></text>
<text x="41.1" y="383.9" font-size="10.0" font-weight="bold" text-anchor="start" fill="#000" textLength="115.4" lengthAdjust="spacingAndGlyphs">Days after tumor challenge</text>
<polyline points="37.80,358.00 53.40,357.60 62.60,357.00 75.00,355.10 84.50,353.20 93.80,351.10 103.00,351.10 115.60,347.10 121.80,347.10 143.50,341.90" fill="none" stroke="#e070b0" stroke-width="0.8"/>
<circle cx="37.80" cy="358.00" r="3.20" fill="#e0309a" stroke="#b01070" stroke-width="0.6"/>
<circle cx="53.40" cy="357.60" r="3.20" fill="#e0309a" stroke="#b01070" stroke-width="0.6"/>
<circle cx="62.60" cy="357.00" r="3.20" fill="#e0309a" stroke="#b01070" stroke-width="0.6"/>
<circle cx="75.00" cy="355.10" r="3.20" fill="#e0309a" stroke="#b01070" stroke-width="0.6"/>
<circle cx="84.50" cy="353.20" r="3.20" fill="#e0309a" stroke="#b01070" stroke-width="0.6"/>
<circle cx="93.80" cy="351.10" r="3.20" fill="#e0309a" stroke="#b01070" stroke-width="0.6"/>
<circle cx="103.00" cy="351.10" r="3.20" fill="#e0309a" stroke="#b01070" stroke-width="0.6"/>
<circle cx="115.60" cy="347.10" r="3.20" fill="#e0309a" stroke="#b01070" stroke-width="0.6"/>
<circle cx="121.80" cy="347.10" r="3.20" fill="#e0309a" stroke="#b01070" stroke-width="0.6"/>
<circle cx="143.50" cy="341.90" r="3.20" fill="#e0309a" stroke="#b01070" stroke-width="0.6"/>
<polyline points="37.80,358.00 53.40,357.00 62.60,356.00 75.00,351.00 84.50,345.00 93.80,330.00 103.00,326.00 115.60,316.00 121.80,309.40 143.50,296.00" fill="none" stroke="#c8c070" stroke-width="0.8"/>
<polygon points="34.65,359.93 40.95,359.93 37.80,354.13" fill="#a8a020" stroke="#706a10" stroke-width="0.5"/>
<polygon points="50.25,358.93 56.55,358.93 53.40,353.13" fill="#a8a020" stroke="#706a10" stroke-width="0.5"/>
<polygon points="59.45,357.93 65.75,357.93 62.60,352.13" fill="#a8a020" stroke="#706a10" stroke-width="0.5"/>
<polygon points="71.85,352.93 78.15,352.93 75.00,347.13" fill="#a8a020" stroke="#706a10" stroke-width="0.5"/>
<polygon points="81.35,346.93 87.65,346.93 84.50,341.13" fill="#a8a020" stroke="#706a10" stroke-width="0.5"/>
<polygon points="90.65,331.93 96.95,331.93 93.80,326.13" fill="#a8a020" stroke="#706a10" stroke-width="0.5"/>
<polygon points="99.85,327.93 106.15,327.93 103.00,322.13" fill="#a8a020" stroke="#706a10" stroke-width="0.5"/>
<polygon points="112.45,317.93 118.75,317.93 115.60,312.13" fill="#a8a020" stroke="#706a10" stroke-width="0.5"/>
<polygon points="118.65,311.33 124.95,311.33 121.80,305.53" fill="#a8a020" stroke="#706a10" stroke-width="0.5"/>
<polygon points="140.35,297.93 146.65,297.93 143.50,292.13" fill="#a8a020" stroke="#706a10" stroke-width="0.5"/>
<polyline points="37.80,358.00 53.40,356.80 62.60,355.50 75.00,350.50 84.50,343.00 93.80,328.60 103.00,324.60 115.60,313.90 121.80,309.00 143.50,294.90" fill="none" stroke="#f0c070" stroke-width="0.8"/>
<line x1="84.5" y1="341" x2="84.5" y2="345" stroke="#d8c098" stroke-width="0.55"/>
<line x1="81.9" y1="341" x2="87.1" y2="341" stroke="#d8c098" stroke-width="0.55"/>
<line x1="81.9" y1="345" x2="87.1" y2="345" stroke="#d8c098" stroke-width="0.55"/>
<line x1="93.8" y1="324.6" x2="93.8" y2="332.6" stroke="#d8c098" stroke-width="0.55"/>
<line x1="91.2" y1="324.6" x2="96.39999999999999" y2="324.6" stroke="#d8c098" stroke-width="0.55"/>
<line x1="91.2" y1="332.6" x2="96.39999999999999" y2="332.6" stroke="#d8c098" stroke-width="0.55"/>
<line x1="103" y1="320.6" x2="103" y2="328.6" stroke="#d8c098" stroke-width="0.55"/>
<line x1="100.4" y1="320.6" x2="105.6" y2="320.6" stroke="#d8c098" stroke-width="0.55"/>
<line x1="100.4" y1="328.6" x2="105.6" y2="328.6" stroke="#d8c098" stroke-width="0.55"/>
<line x1="115.6" y1="308.9" x2="115.6" y2="318.9" stroke="#d8c098" stroke-width="0.55"/>
<line x1="113.0" y1="308.9" x2="118.19999999999999" y2="308.9" stroke="#d8c098" stroke-width="0.55"/>
<line x1="113.0" y1="318.9" x2="118.19999999999999" y2="318.9" stroke="#d8c098" stroke-width="0.55"/>
<line x1="121.8" y1="304" x2="121.8" y2="314" stroke="#d8c098" stroke-width="0.55"/>
<line x1="119.2" y1="304" x2="124.39999999999999" y2="304" stroke="#d8c098" stroke-width="0.55"/>
<line x1="119.2" y1="314" x2="124.39999999999999" y2="314" stroke="#d8c098" stroke-width="0.55"/>
<line x1="143.5" y1="286.9" x2="143.5" y2="302.9" stroke="#d8c098" stroke-width="0.55"/>
<line x1="140.9" y1="286.9" x2="146.1" y2="286.9" stroke="#d8c098" stroke-width="0.55"/>
<line x1="140.9" y1="302.9" x2="146.1" y2="302.9" stroke="#d8c098" stroke-width="0.55"/>
<rect x="34.90" y="355.10" width="5.80" height="5.80" fill="#f0a030" stroke="#c07818" stroke-width="0.5"/>
<rect x="50.50" y="353.90" width="5.80" height="5.80" fill="#f0a030" stroke="#c07818" stroke-width="0.5"/>
<rect x="59.70" y="352.60" width="5.80" height="5.80" fill="#f0a030" stroke="#c07818" stroke-width="0.5"/>
<rect x="72.10" y="347.60" width="5.80" height="5.80" fill="#f0a030" stroke="#c07818" stroke-width="0.5"/>
<rect x="81.60" y="340.10" width="5.80" height="5.80" fill="#f0a030" stroke="#c07818" stroke-width="0.5"/>
<rect x="90.90" y="325.70" width="5.80" height="5.80" fill="#f0a030" stroke="#c07818" stroke-width="0.5"/>
<rect x="100.10" y="321.70" width="5.80" height="5.80" fill="#f0a030" stroke="#c07818" stroke-width="0.5"/>
<rect x="112.70" y="311.00" width="5.80" height="5.80" fill="#f0a030" stroke="#c07818" stroke-width="0.5"/>
<rect x="118.90" y="306.10" width="5.80" height="5.80" fill="#f0a030" stroke="#c07818" stroke-width="0.5"/>
<rect x="140.60" y="292.00" width="5.80" height="5.80" fill="#f0a030" stroke="#c07818" stroke-width="0.5"/>
<rect x="118.9" y="306.4" width="6" height="6" fill="#b0a028" stroke="#8a7a18" stroke-width="0.5"/>
<polyline points="37.80,358.00 53.40,357.00 62.60,356.00 75.00,351.50 84.50,346.10 93.80,340.50 103.00,337.30 115.60,330.40 121.80,318.20 143.50,304.80" fill="none" stroke="#8ab868" stroke-width="0.8"/>
<line x1="84.5" y1="344.1" x2="84.5" y2="348.1" stroke="#b0c0a0" stroke-width="0.55"/>
<line x1="81.9" y1="344.1" x2="87.1" y2="344.1" stroke="#b0c0a0" stroke-width="0.55"/>
<line x1="81.9" y1="348.1" x2="87.1" y2="348.1" stroke="#b0c0a0" stroke-width="0.55"/>
<line x1="93.8" y1="338.5" x2="93.8" y2="342.5" stroke="#b0c0a0" stroke-width="0.55"/>
<line x1="91.2" y1="338.5" x2="96.39999999999999" y2="338.5" stroke="#b0c0a0" stroke-width="0.55"/>
<line x1="91.2" y1="342.5" x2="96.39999999999999" y2="342.5" stroke="#b0c0a0" stroke-width="0.55"/>
<line x1="103" y1="333.3" x2="103" y2="341.3" stroke="#b0c0a0" stroke-width="0.55"/>
<line x1="100.4" y1="333.3" x2="105.6" y2="333.3" stroke="#b0c0a0" stroke-width="0.55"/>
<line x1="100.4" y1="341.3" x2="105.6" y2="341.3" stroke="#b0c0a0" stroke-width="0.55"/>
<line x1="115.6" y1="322.4" x2="115.6" y2="338.4" stroke="#b0c0a0" stroke-width="0.55"/>
<line x1="113.0" y1="322.4" x2="118.19999999999999" y2="322.4" stroke="#b0c0a0" stroke-width="0.55"/>
<line x1="113.0" y1="338.4" x2="118.19999999999999" y2="338.4" stroke="#b0c0a0" stroke-width="0.55"/>
<line x1="121.8" y1="312.2" x2="121.8" y2="324.2" stroke="#b0c0a0" stroke-width="0.55"/>
<line x1="119.2" y1="312.2" x2="124.39999999999999" y2="312.2" stroke="#b0c0a0" stroke-width="0.55"/>
<line x1="119.2" y1="324.2" x2="124.39999999999999" y2="324.2" stroke="#b0c0a0" stroke-width="0.55"/>
<line x1="143.5" y1="297.8" x2="143.5" y2="311.8" stroke="#b0c0a0" stroke-width="0.55"/>
<line x1="140.9" y1="297.8" x2="146.1" y2="297.8" stroke="#b0c0a0" stroke-width="0.55"/>
<line x1="140.9" y1="311.8" x2="146.1" y2="311.8" stroke="#b0c0a0" stroke-width="0.55"/>
<polygon points="34.65,356.07 40.95,356.07 37.80,361.87" fill="#4a9020" stroke="#2a6010" stroke-width="0.5"/>
<polygon points="50.25,355.07 56.55,355.07 53.40,360.87" fill="#4a9020" stroke="#2a6010" stroke-width="0.5"/>
<polygon points="59.45,354.07 65.75,354.07 62.60,359.87" fill="#4a9020" stroke="#2a6010" stroke-width="0.5"/>
<polygon points="71.85,349.57 78.15,349.57 75.00,355.37" fill="#4a9020" stroke="#2a6010" stroke-width="0.5"/>
<polygon points="81.35,344.17 87.65,344.17 84.50,349.97" fill="#4a9020" stroke="#2a6010" stroke-width="0.5"/>
<polygon points="90.65,338.57 96.95,338.57 93.80,344.37" fill="#4a9020" stroke="#2a6010" stroke-width="0.5"/>
<polygon points="99.85,335.37 106.15,335.37 103.00,341.17" fill="#4a9020" stroke="#2a6010" stroke-width="0.5"/>
<polygon points="112.45,328.47 118.75,328.47 115.60,334.27" fill="#4a9020" stroke="#2a6010" stroke-width="0.5"/>
<polygon points="118.65,316.27 124.95,316.27 121.80,322.07" fill="#4a9020" stroke="#2a6010" stroke-width="0.5"/>
<polygon points="140.35,302.87 146.65,302.87 143.50,308.67" fill="#4a9020" stroke="#2a6010" stroke-width="0.5"/>
<polyline points="37.80,358.00 53.40,355.00 62.60,353.30 75.00,349.20 84.50,340.60 93.80,334.40 103.00,330.50 115.60,320.80 121.80,296.60 143.50,286.30" fill="none" stroke="#7080e8" stroke-width="0.8"/>
<line x1="93.8" y1="332.4" x2="93.8" y2="336.4" stroke="#c0b8a8" stroke-width="0.55"/>
<line x1="91.2" y1="332.4" x2="96.39999999999999" y2="332.4" stroke="#c0b8a8" stroke-width="0.55"/>
<line x1="91.2" y1="336.4" x2="96.39999999999999" y2="336.4" stroke="#c0b8a8" stroke-width="0.55"/>
<line x1="103" y1="328.5" x2="103" y2="332.5" stroke="#c0b8a8" stroke-width="0.55"/>
<line x1="100.4" y1="328.5" x2="105.6" y2="328.5" stroke="#c0b8a8" stroke-width="0.55"/>
<line x1="100.4" y1="332.5" x2="105.6" y2="332.5" stroke="#c0b8a8" stroke-width="0.55"/>
<line x1="115.6" y1="317.8" x2="115.6" y2="323.8" stroke="#c0b8a8" stroke-width="0.55"/>
<line x1="113.0" y1="317.8" x2="118.19999999999999" y2="317.8" stroke="#c0b8a8" stroke-width="0.55"/>
<line x1="113.0" y1="323.8" x2="118.19999999999999" y2="323.8" stroke="#c0b8a8" stroke-width="0.55"/>
<line x1="121.8" y1="292.6" x2="121.8" y2="300.6" stroke="#c0b8a8" stroke-width="0.55"/>
<line x1="119.2" y1="292.6" x2="124.39999999999999" y2="292.6" stroke="#c0b8a8" stroke-width="0.55"/>
<line x1="119.2" y1="300.6" x2="124.39999999999999" y2="300.6" stroke="#c0b8a8" stroke-width="0.55"/>
<line x1="143.5" y1="271.3" x2="143.5" y2="301.3" stroke="#c0b8a8" stroke-width="0.55"/>
<line x1="140.9" y1="271.3" x2="146.1" y2="271.3" stroke="#c0b8a8" stroke-width="0.55"/>
<line x1="140.9" y1="301.3" x2="146.1" y2="301.3" stroke="#c0b8a8" stroke-width="0.55"/>
<polygon points="37.80,354.70 41.30,358.00 37.80,361.30 34.30,358.00" fill="#1a3af0" stroke="#0a20b0" stroke-width="0.5"/>
<polygon points="53.40,351.70 56.90,355.00 53.40,358.30 49.90,355.00" fill="#1a3af0" stroke="#0a20b0" stroke-width="0.5"/>
<polygon points="62.60,350.00 66.10,353.30 62.60,356.60 59.10,353.30" fill="#1a3af0" stroke="#0a20b0" stroke-width="0.5"/>
<polygon points="75.00,345.90 78.50,349.20 75.00,352.50 71.50,349.20" fill="#1a3af0" stroke="#0a20b0" stroke-width="0.5"/>
<polygon points="84.50,337.30 88.00,340.60 84.50,343.90 81.00,340.60" fill="#1a3af0" stroke="#0a20b0" stroke-width="0.5"/>
<polygon points="93.80,331.10 97.30,334.40 93.80,337.70 90.30,334.40" fill="#1a3af0" stroke="#0a20b0" stroke-width="0.5"/>
<polygon points="103.00,327.20 106.50,330.50 103.00,333.80 99.50,330.50" fill="#1a3af0" stroke="#0a20b0" stroke-width="0.5"/>
<polygon points="115.60,317.50 119.10,320.80 115.60,324.10 112.10,320.80" fill="#1a3af0" stroke="#0a20b0" stroke-width="0.5"/>
<polygon points="121.80,293.30 125.30,296.60 121.80,299.90 118.30,296.60" fill="#1a3af0" stroke="#0a20b0" stroke-width="0.5"/>
<polygon points="143.50,283.00 147.00,286.30 143.50,289.60 140.00,286.30" fill="#1a3af0" stroke="#0a20b0" stroke-width="0.5"/>
<line x1="161.0" y1="223.9" x2="175.0" y2="223.9" stroke="#b8c0f4" stroke-width="0.7"/>
<polygon points="167.90,220.60 171.40,223.90 167.90,227.20 164.40,223.90" fill="#1a3af0" stroke="#0a20b0" stroke-width="0.5"/>
<line x1="161.0" y1="247.8" x2="175.0" y2="247.8" stroke="#f4c0dc" stroke-width="0.7"/>
<circle cx="167.90" cy="247.80" r="3.20" fill="#e0309a" stroke="#b01070" stroke-width="0.6"/>
<line x1="161.0" y1="277.3" x2="175.0" y2="277.3" stroke="#f6dcb0" stroke-width="0.7"/>
<rect x="165.00" y="274.40" width="5.80" height="5.80" fill="#f0a030" stroke="#c07818" stroke-width="0.5"/>
<line x1="161.0" y1="304.5" x2="175.0" y2="304.5" stroke="#e4e0b8" stroke-width="0.7"/>
<polygon points="164.75,306.43 171.05,306.43 167.90,300.63" fill="#a8a020" stroke="#706a10" stroke-width="0.5"/>
<line x1="161.0" y1="333.5" x2="175.0" y2="333.5" stroke="#c8e0b8" stroke-width="0.7"/>
<polygon points="164.75,331.57 171.05,331.57 167.90,337.37" fill="#4a9020" stroke="#2a6010" stroke-width="0.5"/>
<text x="178.7" y="227.7" font-size="10.1" font-weight="bold" text-anchor="start" fill="#000" textLength="54.1" lengthAdjust="spacingAndGlyphs">Control-HER2</text>
<text x="177.9" y="246.4" font-size="10.1" font-weight="bold" text-anchor="start" fill="#000" textLength="80.6" lengthAdjust="spacingAndGlyphs">α-Treml4-HER2 + Adj</text>
<text x="178.0" y="258.1" font-size="10.1" font-weight="bold" text-anchor="start" fill="#000" textLength="67.6" lengthAdjust="spacingAndGlyphs">+ Isotype control</text>
<text x="178.7" y="275.8" font-size="10.1" font-weight="bold" text-anchor="start" fill="#000" textLength="79.8" lengthAdjust="spacingAndGlyphs">α-Treml4-HER2 + Adj</text>
<text x="178.7" y="287.3" font-size="10.1" font-weight="bold" text-anchor="start" fill="#000" textLength="32.6" lengthAdjust="spacingAndGlyphs">+ α-CD4</text>
<text x="178.7" y="303.7" font-size="10.1" font-weight="bold" text-anchor="start" fill="#000" textLength="79.8" lengthAdjust="spacingAndGlyphs">α-Treml4-HER2 + Adj</text>
<text x="178.7" y="314.9" font-size="10.1" font-weight="bold" text-anchor="start" fill="#000" textLength="32.6" lengthAdjust="spacingAndGlyphs">+ α-CD8</text>
<text x="177.2" y="332.5" font-size="10.1" font-weight="bold" text-anchor="start" fill="#000" textLength="81.2" lengthAdjust="spacingAndGlyphs">α-Treml4-HER2 + Adj</text>
<text x="184.8" y="344.0" font-size="10.1" font-weight="bold" text-anchor="start" fill="#000" textLength="67.2" lengthAdjust="spacingAndGlyphs">+ α-CD4 + α-CD8</text>
</svg>
</body></html>
